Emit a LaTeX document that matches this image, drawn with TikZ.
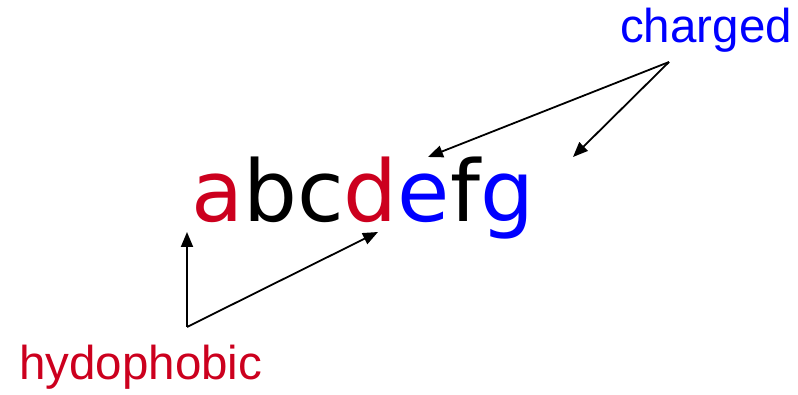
\documentclass[tikz,border=0pt]{standalone}
\usepackage{fontspec}
\setmainfont{DejaVu Sans}
\newfontfamily\labelfont{Liberation Sans}
\usetikzlibrary{arrows.meta}
\definecolor{hydred}{RGB}{204,0,30}
\definecolor{chgblue}{RGB}{0,0,255}
\tikzset{
  seq/.style={inner sep=0pt, anchor=base west, font=\fontsize{85}{90}\selectfont},
  lbl/.style={inner sep=0pt, anchor=base west, font=\labelfont\fontsize{47.5}{50}\selectfont},
  pointer/.style={line width=1.8pt, -{Triangle[length=15pt,width=12pt]}}
}
\begin{document}
\begin{tikzpicture}[x=1pt,y=-1pt]
\useasboundingbox (0,0) rectangle (798,395);
\node[seq] (word) at (191,222) {\textcolor{hydred}{a}bc\textcolor{hydred}{d}\textcolor{chgblue}{e}f\textcolor{chgblue}{g}};
\node[lbl, text=chgblue] (chg) at (620,43) {charged};
\node[lbl, text=hydred] (hyd) at (19,379) {hydophobic};
\coordinate (chgfoot) at (669,62);
\coordinate (hydfoot) at (187,327);
\coordinate (ptE) at (428,157);
\coordinate (ptG) at (573,157);
\coordinate (ptA) at (187,232);
\coordinate (ptD) at (378,232);
\draw[pointer] (chgfoot) -- (ptE);
\draw[pointer] (chgfoot) -- (ptG);
\draw[pointer] (hydfoot) -- (ptA);
\draw[pointer] (hydfoot) -- (ptD);
\end{tikzpicture}
\end{document}
